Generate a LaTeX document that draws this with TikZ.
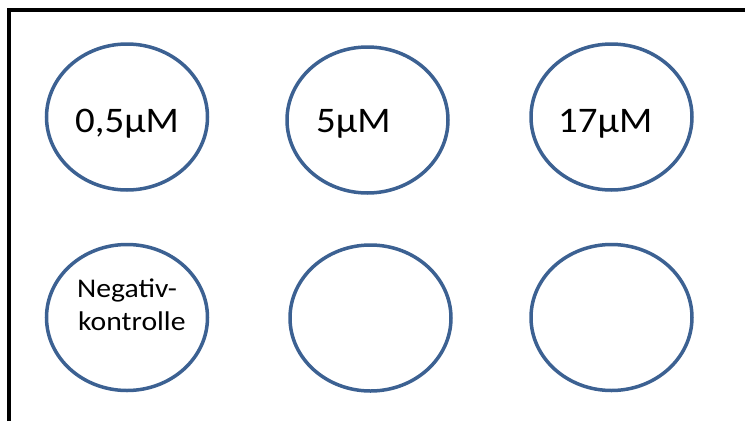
\documentclass[tikz,border=0pt]{standalone}
\usepackage{fontspec}
\setmainfont{Carlito}
\usetikzlibrary{shapes.geometric}
\definecolor{wellblue}{HTML}{3C6192}
\tikzset{
  well/.style={draw=wellblue, line width=3.5pt, ellipse, minimum width=161pt, minimum height=146pt, inner sep=0pt},
  lbl/.style={anchor=base west, inner sep=0pt, font=\fontsize{36}{40}\selectfont},
  small/.style={anchor=base west, inner sep=0pt, font=\fontsize{27}{30}\selectfont},
}
\begin{document}
\begin{tikzpicture}[x=1pt, y=-1pt]
\useasboundingbox (0,0) rectangle (745,421);
\coordinate (fb) at (9,421);
\coordinate (fc) at (9,10);
\coordinate (fr) at (745,10);
\draw[line width=4pt] (fb) -- (fc) -- (fr);
\node[well] (w1) at (127,117) {};
\node[well] (w2) at (367.5,120) {};
\node[well] (w3) at (611.5,117) {};
\node[well] (w4) at (127,317.5) {};
\node[well] (w5) at (370.5,318) {};
\node[well] (w6) at (611.5,317.5) {};
\node[lbl] (t1) at (75,132) {\scalebox{1.08}[1]{0,5µM}};
\node[lbl] (t2) at (316,132) {\scalebox{1.08}[1]{5µM}};
\node[lbl] (t3) at (558,132) {\scalebox{1.08}[1]{17µM}};
\node[small] (t4) at (77,297) {\scalebox{1.1}[1]{Negativ-}};
\node[small] (t5) at (78,330) {\scalebox{1.1}[1]{kontrolle}};
\end{tikzpicture}
\end{document}
